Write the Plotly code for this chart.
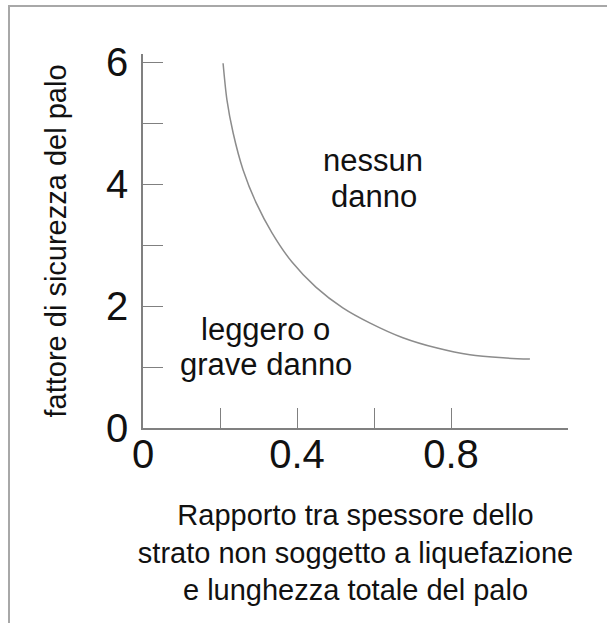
import plotly.graph_objects as go

# Curve separating the damage regions
curve_x = [0.208, 0.218, 0.234, 0.260, 0.294, 0.335, 0.387, 0.449, 0.519, 0.590, 0.675, 0.764, 0.849, 0.935, 1.005]
curve_y = [5.98, 5.38, 4.84, 4.23, 3.69, 3.20, 2.72, 2.31, 1.97, 1.72, 1.48, 1.31, 1.20, 1.15, 1.13]

x_tickvals = [0, 0.2, 0.4, 0.6, 0.8]
x_ticktext = ["0", "", "0.4", "", "0.8"]
y_tickvals = [0, 1, 2, 3, 4, 5, 6]
y_ticktext = ["0", "", "2", "", "4", "", "6"]

region_labels = ["nessun", "danno", "leggero o", "grave danno"]
region_x = [0.597, 0.599, 0.317, 0.319]
region_y = [4.38, 3.80, 1.61, 1.035]
region_size = [31, 31, 31, 31]

FONT = "Arial, 'Liberation Sans', Helvetica, sans-serif"
AX = "#808080"

fig = go.Figure()
fig.add_trace(go.Scatter(
    x=curve_x, y=curve_y, mode="lines",
    line=dict(color="#8c8c8c", width=1.5, shape="spline", smoothing=0.8),
    showlegend=False, hoverinfo="skip"))

for t, x, y, s in zip(region_labels, region_x, region_y, region_size):
    fig.add_annotation(x=x, y=y, xref="x", yref="y", text=t, showarrow=False,
                       font=dict(family=FONT, size=s, color="#111111"),
                       xanchor="center", yanchor="middle", borderpad=0)

L, R, T, B = 143, 568, 54, 428
W, H = 607, 623

def px_x(p):
    return (p - L) / (R - L)

def px_y(p):
    return (B - p) / (B - T)

# outer frame (only left and top edges visible in the picture)
fig.add_shape(type="rect", xref="paper", yref="paper",
              x0=px_x(9), x1=px_x(640), y0=px_y(660), y1=px_y(6),
              line=dict(color="#a8a8a8", width=2), fillcolor="rgba(0,0,0,0)", layer="below")

fig.update_layout(
    width=W, height=H,
    margin=dict(l=L, r=W - R, t=T, b=H - B, pad=0),
    paper_bgcolor="white", plot_bgcolor="white",
    font=dict(family=FONT, color="#111111"),
    xaxis=dict(range=[0, (R - L) / 385], tickvals=x_tickvals, ticktext=x_ticktext,
               ticks="inside", ticklen=20, tickwidth=1.2, tickcolor=AX,
               showline=True, linecolor=AX, linewidth=1.5, showgrid=False, zeroline=False,
               tickfont=dict(size=40, family=FONT, color="#111111"),
               ticklabelstandoff=-10, automargin=False,
               title=dict(text="Rapporto tra spessore dello<br>strato non soggetto a liquefazione<br>e lunghezza totale del palo",
                          font=dict(size=29, family=FONT, color="#111111"), standoff=30)),
    yaxis=dict(range=[0, (B - T) / 61], tickvals=y_tickvals, ticktext=y_ticktext,
               ticks="inside", ticklen=20, tickwidth=1.2, tickcolor=AX,
               showline=True, linecolor=AX, linewidth=1.5, showgrid=False, zeroline=False,
               tickfont=dict(size=40, family=FONT, color="#111111"),
               ticklabelstandoff=5, automargin=False,
               title=dict(text="fattore di sicurezza del palo",
                          font=dict(size=29, family=FONT, color="#111111"), standoff=31)),
)

fig.write_html("out.html", config={"displayModeBar": False},
               post_script="document.body.style.margin='0';")
